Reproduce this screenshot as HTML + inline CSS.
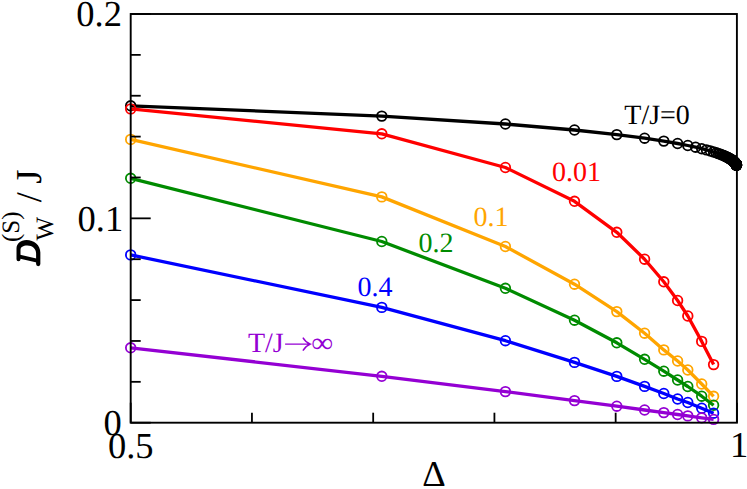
<!DOCTYPE html>
<html><head><meta charset="utf-8"><style>
html,body{margin:0;padding:0;background:#fff;}
svg{display:block;}
</style></head><body>
<svg width="747" height="489" viewBox="0 0 747 489">
<rect x="0" y="0" width="747" height="489" fill="#fff"/>
<polyline points="130.7,105.8 381.8,116.1 505.4,124.0 574.5,130.0 616.8,134.6 644.6,138.2 663.8,141.1 677.6,143.5 687.8,145.5 695.6,147.2 701.7,148.7 706.5,149.9 710.4,151.0 713.6,152.0 716.3,152.8 718.5,153.6 720.4,154.3 722.0,154.9 723.4,155.5 724.6,156.0 725.6,156.5 726.5,156.9 727.3,157.3 728.1,157.7 728.7,158.0 729.3,158.4 729.8,158.7 730.3,158.9 730.7,159.2 731.1,159.4 731.4,159.7 731.7,159.9 732.0,160.1 732.3,160.3 732.5,160.5 732.8,160.7 733.0,160.8 733.2,161.0 733.3,161.1 733.5,161.3 733.7,161.4 733.8,161.5 733.9,161.7 734.1,161.8 734.2,161.9 734.3,162.0 734.4,162.1 734.5,162.2 734.6,162.3 734.7,162.4 734.8,162.5 734.8,162.6 734.9,162.7 735.0,162.8 735.1,162.8 735.1,162.9 735.2,163.0 735.2,163.1 735.3,163.1 735.3,163.2 735.4,163.3 735.4,163.3 735.5,163.4 735.5,163.4 735.6,163.5 735.6,163.5 735.6,163.6 735.7,163.6 735.7,163.7 735.7,163.7 735.8,163.8 735.8,163.8 735.8,163.9 735.9,163.9 735.9,164.0 735.9,164.0 735.9,164.1 736.0,164.1 736.0,164.1 736.0,164.2 736.0,164.2 736.1,164.2 736.1,164.3 736.1,164.3 736.1,164.3 736.1,164.4 736.1,164.4 736.2,164.4 736.2,164.5 736.2,164.5 736.2,164.5 736.2,164.6 736.2,164.6 736.3,164.6 736.3,164.6 736.3,164.7 736.3,164.7 736.3,164.7 736.3,164.7 736.3,164.8 736.3,164.8 736.3,164.8 736.4,164.8 736.4,164.9 736.4,164.9 736.4,164.9 736.4,164.9 736.4,165.0 736.4,165.0 736.4,165.0 736.4,165.0 736.4,165.0 736.4,165.1 736.5,165.1 736.5,165.1 736.5,165.1 736.5,165.1 736.5,165.1" fill="none" stroke="#000" stroke-width="3.3" stroke-linejoin="round" stroke-linecap="butt"/>
<g fill="none" stroke="#000" stroke-width="1.8"><circle cx="130.7" cy="105.8" r="4.8"/><circle cx="381.8" cy="116.1" r="4.8"/><circle cx="505.4" cy="124.0" r="4.8"/><circle cx="574.5" cy="130.0" r="4.8"/><circle cx="616.8" cy="134.6" r="4.8"/><circle cx="644.6" cy="138.2" r="4.8"/><circle cx="663.8" cy="141.1" r="4.8"/><circle cx="677.6" cy="143.5" r="4.8"/><circle cx="687.8" cy="145.5" r="4.8"/><circle cx="695.6" cy="147.2" r="4.8"/><circle cx="701.7" cy="148.7" r="4.8"/><circle cx="706.5" cy="149.9" r="4.8"/><circle cx="710.4" cy="151.0" r="4.8"/><circle cx="713.6" cy="152.0" r="4.8"/><circle cx="716.3" cy="152.8" r="4.8"/><circle cx="718.5" cy="153.6" r="4.8"/><circle cx="720.4" cy="154.3" r="4.8"/><circle cx="722.0" cy="154.9" r="4.8"/><circle cx="723.4" cy="155.5" r="4.8"/><circle cx="724.6" cy="156.0" r="4.8"/><circle cx="725.6" cy="156.5" r="4.8"/><circle cx="726.5" cy="156.9" r="4.8"/><circle cx="727.3" cy="157.3" r="4.8"/><circle cx="728.1" cy="157.7" r="4.8"/><circle cx="728.7" cy="158.0" r="4.8"/><circle cx="729.3" cy="158.4" r="4.8"/><circle cx="729.8" cy="158.7" r="4.8"/><circle cx="730.3" cy="158.9" r="4.8"/><circle cx="730.7" cy="159.2" r="4.8"/><circle cx="731.1" cy="159.4" r="4.8"/><circle cx="731.4" cy="159.7" r="4.8"/><circle cx="731.7" cy="159.9" r="4.8"/><circle cx="732.0" cy="160.1" r="4.8"/><circle cx="732.3" cy="160.3" r="4.8"/><circle cx="732.5" cy="160.5" r="4.8"/><circle cx="732.8" cy="160.7" r="4.8"/><circle cx="733.0" cy="160.8" r="4.8"/><circle cx="733.2" cy="161.0" r="4.8"/><circle cx="733.3" cy="161.1" r="4.8"/><circle cx="733.5" cy="161.3" r="4.8"/><circle cx="733.7" cy="161.4" r="4.8"/><circle cx="733.8" cy="161.5" r="4.8"/><circle cx="733.9" cy="161.7" r="4.8"/><circle cx="734.1" cy="161.8" r="4.8"/><circle cx="734.2" cy="161.9" r="4.8"/><circle cx="734.3" cy="162.0" r="4.8"/><circle cx="734.4" cy="162.1" r="4.8"/><circle cx="734.5" cy="162.2" r="4.8"/><circle cx="734.6" cy="162.3" r="4.8"/><circle cx="734.7" cy="162.4" r="4.8"/><circle cx="734.8" cy="162.5" r="4.8"/><circle cx="734.8" cy="162.6" r="4.8"/><circle cx="734.9" cy="162.7" r="4.8"/><circle cx="735.0" cy="162.8" r="4.8"/><circle cx="735.1" cy="162.8" r="4.8"/><circle cx="735.1" cy="162.9" r="4.8"/><circle cx="735.2" cy="163.0" r="4.8"/><circle cx="735.2" cy="163.1" r="4.8"/><circle cx="735.3" cy="163.1" r="4.8"/><circle cx="735.3" cy="163.2" r="4.8"/><circle cx="735.4" cy="163.3" r="4.8"/><circle cx="735.4" cy="163.3" r="4.8"/><circle cx="735.5" cy="163.4" r="4.8"/><circle cx="735.5" cy="163.4" r="4.8"/><circle cx="735.6" cy="163.5" r="4.8"/><circle cx="735.6" cy="163.5" r="4.8"/><circle cx="735.6" cy="163.6" r="4.8"/><circle cx="735.7" cy="163.6" r="4.8"/><circle cx="735.7" cy="163.7" r="4.8"/><circle cx="735.7" cy="163.7" r="4.8"/><circle cx="735.8" cy="163.8" r="4.8"/><circle cx="735.8" cy="163.8" r="4.8"/><circle cx="735.8" cy="163.9" r="4.8"/><circle cx="735.9" cy="163.9" r="4.8"/><circle cx="735.9" cy="164.0" r="4.8"/><circle cx="735.9" cy="164.0" r="4.8"/><circle cx="735.9" cy="164.1" r="4.8"/><circle cx="736.0" cy="164.1" r="4.8"/><circle cx="736.0" cy="164.1" r="4.8"/><circle cx="736.0" cy="164.2" r="4.8"/><circle cx="736.0" cy="164.2" r="4.8"/><circle cx="736.1" cy="164.2" r="4.8"/><circle cx="736.1" cy="164.3" r="4.8"/><circle cx="736.1" cy="164.3" r="4.8"/><circle cx="736.1" cy="164.3" r="4.8"/><circle cx="736.1" cy="164.4" r="4.8"/><circle cx="736.1" cy="164.4" r="4.8"/><circle cx="736.2" cy="164.4" r="4.8"/><circle cx="736.2" cy="164.5" r="4.8"/><circle cx="736.2" cy="164.5" r="4.8"/><circle cx="736.2" cy="164.5" r="4.8"/><circle cx="736.2" cy="164.6" r="4.8"/><circle cx="736.2" cy="164.6" r="4.8"/><circle cx="736.3" cy="164.6" r="4.8"/><circle cx="736.3" cy="164.6" r="4.8"/><circle cx="736.3" cy="164.7" r="4.8"/><circle cx="736.3" cy="164.7" r="4.8"/><circle cx="736.3" cy="164.7" r="4.8"/><circle cx="736.3" cy="164.7" r="4.8"/><circle cx="736.3" cy="164.8" r="4.8"/><circle cx="736.3" cy="164.8" r="4.8"/><circle cx="736.3" cy="164.8" r="4.8"/><circle cx="736.4" cy="164.8" r="4.8"/><circle cx="736.4" cy="164.9" r="4.8"/><circle cx="736.4" cy="164.9" r="4.8"/><circle cx="736.4" cy="164.9" r="4.8"/><circle cx="736.4" cy="164.9" r="4.8"/><circle cx="736.4" cy="165.0" r="4.8"/><circle cx="736.4" cy="165.0" r="4.8"/><circle cx="736.4" cy="165.0" r="4.8"/><circle cx="736.4" cy="165.0" r="4.8"/><circle cx="736.4" cy="165.0" r="4.8"/><circle cx="736.4" cy="165.1" r="4.8"/><circle cx="736.5" cy="165.1" r="4.8"/><circle cx="736.5" cy="165.1" r="4.8"/><circle cx="736.5" cy="165.1" r="4.8"/><circle cx="736.5" cy="165.1" r="4.8"/><circle cx="736.5" cy="165.1" r="4.8"/></g>
<polyline points="130.7,108.9 381.8,133.8 505.4,167.5 574.5,201.3 616.8,232.3 644.6,259.2 663.8,281.8 677.6,300.5 687.8,316.0 701.7,341.4 713.6,364.6" fill="none" stroke="#ff0000" stroke-width="3.3" stroke-linejoin="round" stroke-linecap="butt"/>
<g fill="none" stroke="#ff0000" stroke-width="1.8"><circle cx="130.7" cy="108.9" r="4.8"/><circle cx="381.8" cy="133.8" r="4.8"/><circle cx="505.4" cy="167.5" r="4.8"/><circle cx="574.5" cy="201.3" r="4.8"/><circle cx="616.8" cy="232.3" r="4.8"/><circle cx="644.6" cy="259.2" r="4.8"/><circle cx="663.8" cy="281.8" r="4.8"/><circle cx="677.6" cy="300.5" r="4.8"/><circle cx="687.8" cy="316.0" r="4.8"/><circle cx="701.7" cy="341.4" r="4.8"/><circle cx="713.6" cy="364.6" r="4.8"/></g>
<polyline points="130.7,139.4 381.8,196.9 505.4,246.5 574.5,284.2 616.8,311.6 644.6,333.2 663.8,349.9 677.6,361.0 687.8,370.0 701.7,384.0 713.6,396.3" fill="none" stroke="#ffa500" stroke-width="3.3" stroke-linejoin="round" stroke-linecap="butt"/>
<g fill="none" stroke="#ffa500" stroke-width="1.8"><circle cx="130.7" cy="139.4" r="4.8"/><circle cx="381.8" cy="196.9" r="4.8"/><circle cx="505.4" cy="246.5" r="4.8"/><circle cx="574.5" cy="284.2" r="4.8"/><circle cx="616.8" cy="311.6" r="4.8"/><circle cx="644.6" cy="333.2" r="4.8"/><circle cx="663.8" cy="349.9" r="4.8"/><circle cx="677.6" cy="361.0" r="4.8"/><circle cx="687.8" cy="370.0" r="4.8"/><circle cx="701.7" cy="384.0" r="4.8"/><circle cx="713.6" cy="396.3" r="4.8"/></g>
<polyline points="130.7,178.3 381.8,241.5 505.4,288.3 574.5,320.2 616.8,342.8 644.6,359.3 663.8,371.2 677.6,380.0 687.8,386.5 701.7,396.2 713.6,405.2" fill="none" stroke="#008b00" stroke-width="3.3" stroke-linejoin="round" stroke-linecap="butt"/>
<g fill="none" stroke="#008b00" stroke-width="1.8"><circle cx="130.7" cy="178.3" r="4.8"/><circle cx="381.8" cy="241.5" r="4.8"/><circle cx="505.4" cy="288.3" r="4.8"/><circle cx="574.5" cy="320.2" r="4.8"/><circle cx="616.8" cy="342.8" r="4.8"/><circle cx="644.6" cy="359.3" r="4.8"/><circle cx="663.8" cy="371.2" r="4.8"/><circle cx="677.6" cy="380.0" r="4.8"/><circle cx="687.8" cy="386.5" r="4.8"/><circle cx="701.7" cy="396.2" r="4.8"/><circle cx="713.6" cy="405.2" r="4.8"/></g>
<polyline points="130.7,254.9 381.8,307.4 505.4,340.7 574.5,362.4 616.8,376.4 644.6,386.4 663.8,393.5 677.6,399.0 687.8,402.5 701.7,408.2 713.6,413.2" fill="none" stroke="#0000ff" stroke-width="3.3" stroke-linejoin="round" stroke-linecap="butt"/>
<g fill="none" stroke="#0000ff" stroke-width="1.8"><circle cx="130.7" cy="254.9" r="4.8"/><circle cx="381.8" cy="307.4" r="4.8"/><circle cx="505.4" cy="340.7" r="4.8"/><circle cx="574.5" cy="362.4" r="4.8"/><circle cx="616.8" cy="376.4" r="4.8"/><circle cx="644.6" cy="386.4" r="4.8"/><circle cx="663.8" cy="393.5" r="4.8"/><circle cx="677.6" cy="399.0" r="4.8"/><circle cx="687.8" cy="402.5" r="4.8"/><circle cx="701.7" cy="408.2" r="4.8"/><circle cx="713.6" cy="413.2" r="4.8"/></g>
<polyline points="130.7,347.8 381.8,376.3 505.4,391.6 574.5,400.6 616.8,406.2 644.6,410.0 663.8,412.6 677.6,414.5 687.8,415.9 701.7,417.8 713.6,419.4" fill="none" stroke="#9400d3" stroke-width="3.3" stroke-linejoin="round" stroke-linecap="butt"/>
<g fill="none" stroke="#9400d3" stroke-width="1.8"><circle cx="130.7" cy="347.8" r="4.8"/><circle cx="381.8" cy="376.3" r="4.8"/><circle cx="505.4" cy="391.6" r="4.8"/><circle cx="574.5" cy="400.6" r="4.8"/><circle cx="616.8" cy="406.2" r="4.8"/><circle cx="644.6" cy="410.0" r="4.8"/><circle cx="663.8" cy="412.6" r="4.8"/><circle cx="677.6" cy="414.5" r="4.8"/><circle cx="687.8" cy="415.9" r="4.8"/><circle cx="701.7" cy="417.8" r="4.8"/><circle cx="713.6" cy="419.4" r="4.8"/></g>
<rect x="130.7" y="14.0" width="606.2" height="408.7" fill="none" stroke="#000" stroke-width="1.9"/>
<g stroke="#000" stroke-width="1.8"><line x1="130.7" y1="422.70" x2="150.7" y2="422.70"/><line x1="130.7" y1="381.83" x2="140.7" y2="381.83"/><line x1="130.7" y1="340.96" x2="140.7" y2="340.96"/><line x1="130.7" y1="300.09" x2="140.7" y2="300.09"/><line x1="130.7" y1="259.22" x2="140.7" y2="259.22"/><line x1="130.7" y1="218.35" x2="150.7" y2="218.35"/><line x1="130.7" y1="177.48" x2="140.7" y2="177.48"/><line x1="130.7" y1="136.61" x2="140.7" y2="136.61"/><line x1="130.7" y1="95.74" x2="140.7" y2="95.74"/><line x1="130.7" y1="54.87" x2="140.7" y2="54.87"/><line x1="130.7" y1="14.00" x2="150.7" y2="14.00"/><line x1="130.70" y1="422.7" x2="130.70" y2="402.7"/><line x1="251.94" y1="422.7" x2="251.94" y2="412.7"/><line x1="373.18" y1="422.7" x2="373.18" y2="412.7"/><line x1="494.42" y1="422.7" x2="494.42" y2="412.7"/><line x1="615.66" y1="422.7" x2="615.66" y2="412.7"/><line x1="736.90" y1="422.7" x2="736.90" y2="402.7"/></g>
<g font-family="Liberation Serif, serif" font-size="36.5px" fill="#000" text-rendering="geometricPrecision">
<text x="121.9" y="26.3" text-anchor="end">0.2</text>
<text x="123.2" y="230.6" text-anchor="end">0.1</text>
<text x="121.8" y="435" text-anchor="end">0</text>
<text x="130.7" y="457.7" text-anchor="middle">0.5</text>
<text x="739" y="457.3" text-anchor="middle">1</text>
<text x="433.9" y="485.6" text-anchor="middle">Δ</text>
</g>
<g font-family="Liberation Serif, serif" font-size="28px" text-rendering="geometricPrecision">
<text x="624.3" y="123.7" fill="#000">T/J=0</text>
<text x="552" y="180.7" fill="#ff0000">0.01</text>
<text x="473.6" y="226.2" fill="#ffa500">0.1</text>
<text x="418.4" y="251.9" fill="#008b00">0.2</text>
<text x="357.6" y="295.7" fill="#0000ff">0.4</text>
<text x="247.9" y="352.3" fill="#9400d3">T/J</text>
<path d="M285.1,344.1 H309.6 M302.9,337.6 Q305.3,342 310.3,344.1 Q305.3,346.2 302.9,350.6" fill="none" stroke="#9400d3" stroke-width="1.4" stroke-linecap="butt" stroke-linejoin="miter"/>
<text transform="translate(311.3,352.2) scale(1.1,1)" font-size="28px" fill="#9400d3">∞</text>
</g>
<g font-family="Liberation Serif, serif" fill="#000" text-rendering="geometricPrecision">
<path d="M16.5,259.2 L16.5,248.5 C16.5,243.5 20.5,239.9 26.5,239.9 C34,239.9 40.35,245 40.35,252.5 L40.35,264 A2.12,2.12 0 0 1 36.1,264 L36.1,253.5 C36.1,249 32.5,245.6 27.3,245.6 C23,245.6 20.5,247.3 20.5,250 L20.5,259.2 A2,2 0 0 1 16.5,259.2 Z" fill="#000" stroke="none"/>
<path d="M18.5,256.33 L38.2,260.94" fill="none" stroke="#000" stroke-width="3.8" stroke-linecap="butt"/>
<text transform="translate(53.4,240.6) rotate(-90)" font-size="25px">W</text>
<text transform="translate(18.7,242) rotate(-90)" font-size="25px">(S)</text>
<text transform="translate(40.6,202.3) rotate(-90)" font-size="36px">/</text>
<text transform="translate(41,183.7) rotate(-90)" font-size="36.5px">J</text>
</g>
</svg>
</body></html>
